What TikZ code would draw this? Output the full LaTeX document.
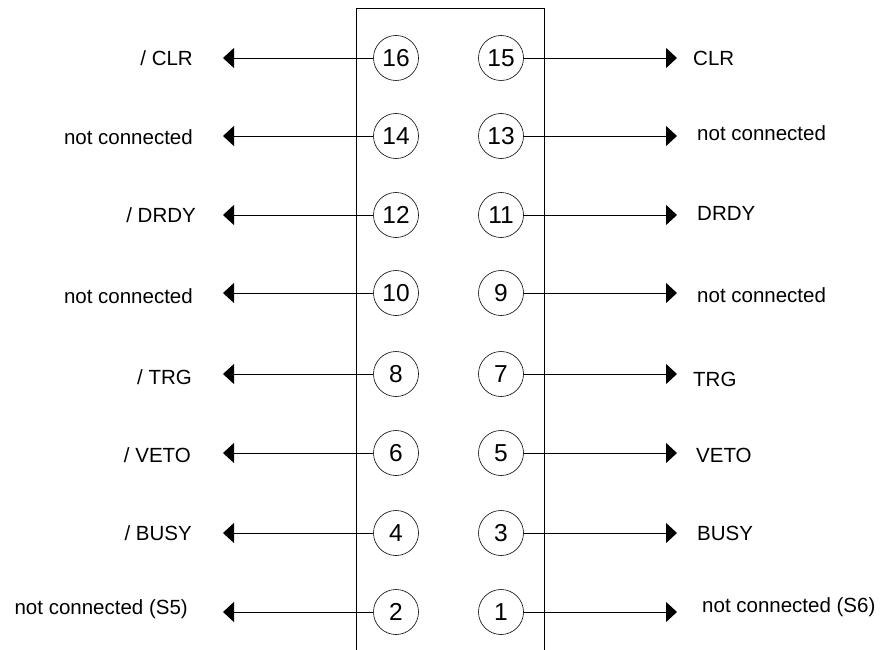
\documentclass[tikz,border=0pt]{standalone}
\usepackage{fontspec}
\setmainfont{Liberation Sans}
\usetikzlibrary{arrows.meta}
\begin{document}
\begin{tikzpicture}[x=1bp,y=-1bp,
  pin/.style={circle,draw,line width=0.6pt,minimum size=45bp,inner sep=0pt,font=\fontsize{24.5bp}{28bp}\selectfont},
  wire/.style={line width=1pt,-{Triangle[length=11bp,width=20bp]}},
  lab/.style={inner sep=0pt,font=\fontsize{20.5bp}{24bp}\selectfont},
  llab/.style={lab,anchor=east},
  rlab/.style={lab,anchor=west}]
\useasboundingbox (0,0) rectangle (881,650);
\draw[line width=1pt] (356,650) -- (356,9) -- (544,9) -- (544,650);
% pins
\node[pin] (p16) at (396,58) {16};
\node[pin] (p15) at (501,58) {15};
\node[pin] (p14) at (396,136) {14};
\node[pin] (p13) at (501,136) {13};
\node[pin] (p12) at (396,215) {12};
\node[pin] (p11) at (501,215) {11};
\node[pin] (p10) at (396,293) {10};
\node[pin] (p9) at (501,293) {9};
\node[pin] (p8) at (396,374) {8};
\node[pin] (p7) at (501,374) {7};
\node[pin] (p6) at (396,453) {6};
\node[pin] (p5) at (501,453) {5};
\node[pin] (p4) at (396,533) {4};
\node[pin] (p3) at (501,533) {3};
\node[pin] (p2) at (396,612) {2};
\node[pin] (p1) at (501,612) {1};
% arrow end points
\foreach \n/\y in {16/58,14/136,12/215,10/293,8/374,6/453,4/533,2/612}
  \coordinate (t\n) at (223,\y);
\foreach \n/\y in {15/58,13/136,11/215,9/293,7/374,5/453,3/533,1/612}
  \coordinate (t\n) at (677,\y);
\foreach \n in {1,...,16}
  \draw[wire] (p\n) -- (t\n);
% left labels
\node[llab] (l16) at (193,58) {/ CLR};
\node[llab] (l14) at (193,137) {not connected};
\node[llab] (l12) at (196,215) {/ DRDY};
\node[llab] (l10) at (193,296) {not connected};
\node[llab] (l8) at (192,377) {/ TRG};
\node[llab] (l6) at (191,455) {/ VETO};
\node[llab] (l4) at (192,533) {/ BUSY};
\node[llab] (l2) at (188,609) {not connected (S5)};
% right labels
\node[rlab] (r15) at (693,58) {CLR};
\node[rlab] (r13) at (697,133) {not connected};
\node[rlab] (r11) at (697,213) {DRDY};
\node[rlab] (r9) at (697,295) {not connected};
\node[rlab] (r7) at (693,379) {TRG};
\node[rlab] (r5) at (696,455) {VETO};
\node[rlab] (r3) at (697,533) {BUSY};
\node[rlab] (r1) at (702,607) {not connected (S6)};
\end{tikzpicture}
\end{document}
